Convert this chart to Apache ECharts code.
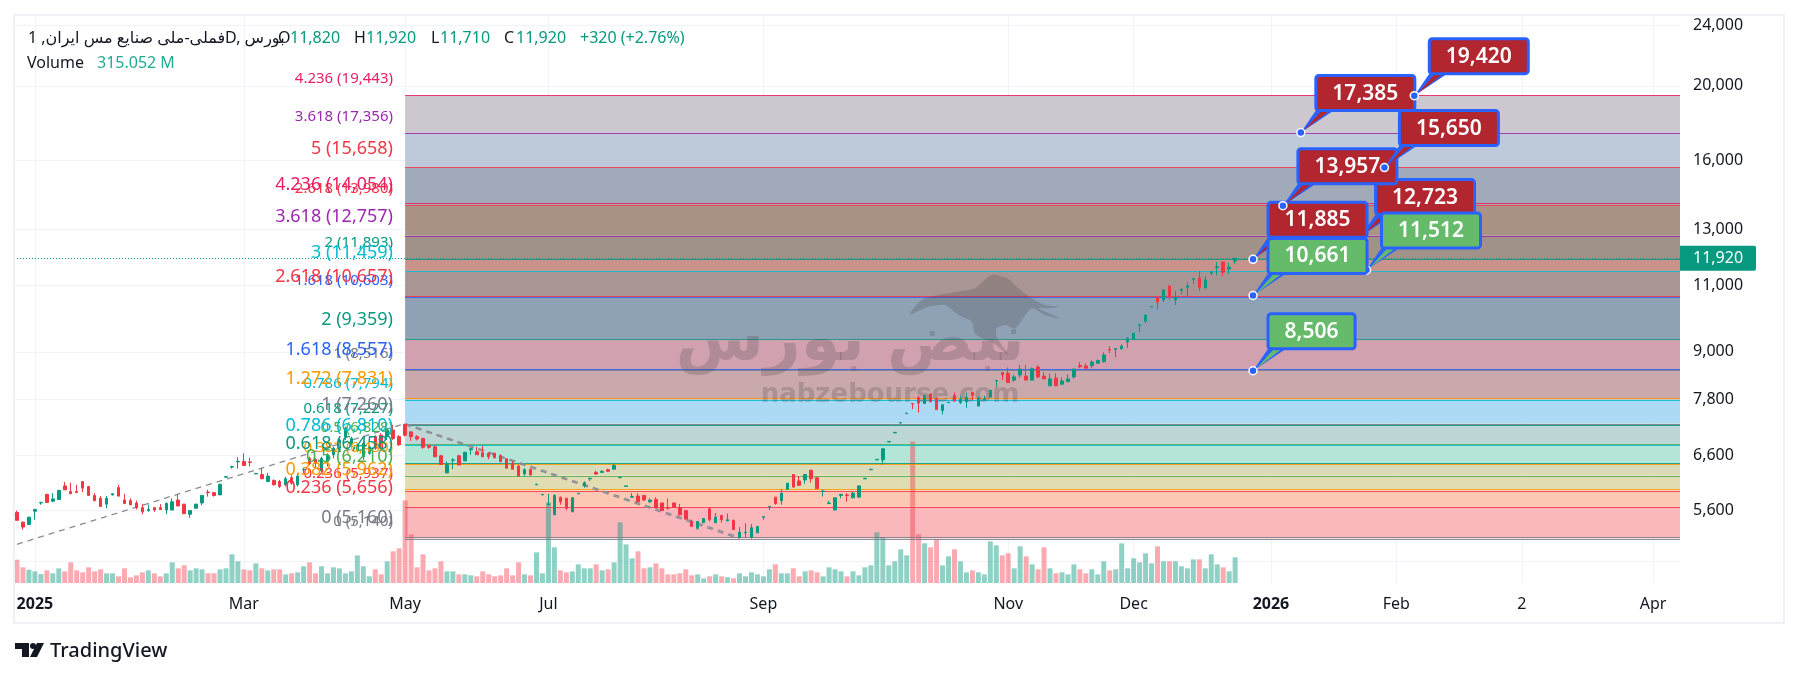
<!DOCTYPE html>
<html><head><meta charset="utf-8">
<style>html,body{margin:0;padding:0;background:#fff}#c{width:1800px;height:677px}</style>
<script src="https://cdn.jsdelivr.net/npm/echarts@6/dist/echarts.min.js"></script>
</head><body><div id="c"></div>
<script>
const opens=[5560,5400,5360,5580,5720,5870,5750,5780,6020,5920,
5920,6100,6010,5850,5800,5700,5860,5990,5770,5760,
5720,5640,5590,5640,5640,5600,5600,5770,5700,5530,
5630,5720,5910,5900,5860,6180,6370,6470,6480,6470,
6240,6230,6100,6120,6100,6040,6170,6040,6320,6540,
6520,6300,6480,6610,6740,6980,6840,6710,6570,6640,
6980,7010,6980,7120,6980,7240,7080,6980,6940,6790,
6770,6590,6260,6500,6590,6490,6710,6670,6650,6640,
6640,6590,6530,6440,6390,6240,6330,6040,5860,5690,
5520,5820,5800,5570,5880,6030,6150,6270,6270,6320,
6330,6170,6010,5820,5840,5850,5740,5780,5720,5640,
5720,5640,5590,5410,5300,5390,5620,5390,5510,5420,
5430,5160,5230,5160,5230,5480,5650,5820,5760,5960,
6230,6110,6130,6310,6170,5920,5710,5600,5850,5860,
5810,5820,6150,6320,6510,6510,6870,7060,7270,7480,
7710,7850,7710,7930,7810,7550,7730,7900,7730,7750,
7970,7650,7790,7860,8250,8460,8440,8270,8400,8370,
8270,8600,8370,8130,8320,8170,8230,8350,8640,8630,
8640,8700,8740,9070,9070,9080,9270,9340,9750,9870,
10300,10590,10520,10970,10520,10830,10930,11190,11230,10900,
11410,11590,11790,11540,11820];
const closes=[5430,5320,5480,5610,5730,5730,5790,5940,5950,5880,
5900,5980,5850,5760,5660,5800,5880,5840,5710,5690,
5640,5570,5610,5600,5610,5710,5740,5670,5540,5590,
5700,5850,5900,5850,6050,6190,6380,6480,6400,6460,
6250,6150,6200,6040,6010,6150,6070,6200,6330,6430,
6440,6540,6610,6740,6910,7160,6940,6810,6840,6770,
6740,6740,7120,6940,6810,7010,6980,6930,6760,6760,
6570,6420,6420,6510,6410,6660,6730,6610,6570,6570,
6550,6480,6350,6330,6200,6320,6220,6050,5870,5700,
5850,5740,5630,5810,5890,6080,6160,6240,6290,6290,
6400,6180,6020,5830,5740,5770,5770,5640,5590,5630,
5650,5520,5450,5330,5410,5460,5440,5480,5440,5440,
5280,5240,5240,5310,5330,5490,5660,5710,5890,6070,
6000,6030,6230,6150,5970,5930,5720,5810,5870,5850,
5890,6020,6160,6330,6520,6730,6880,7070,7280,7490,
7700,7720,7890,7750,7570,7680,7740,7790,7810,7850,
7900,7830,7810,8020,8260,8400,8210,8350,8550,8270,
8560,8350,8300,8300,8130,8250,8300,8550,8610,8570,
8730,8770,8920,9050,9090,9160,9380,9520,9770,10050,
10310,10450,10840,10600,10600,10860,10970,11210,10930,11170,
11440,11620,11430,11610,11920];
const lows=[5430,5280,5360,5440,5690,5730,5730,5780,5950,5880,
5900,5910,5850,5750,5660,5630,5850,5830,5700,5680,
5610,5530,5570,5570,5600,5530,5600,5660,5530,5470,
5630,5680,5830,5830,5860,6180,6340,6340,6390,6380,
6240,6150,6100,6030,5980,6010,6040,6010,6250,6410,
6350,6280,6380,6540,6670,6910,6770,6670,6510,6610,
6710,6720,6910,6910,6790,6980,6890,6900,6730,6730,
6570,6410,6260,6330,6410,6490,6610,6610,6560,6520,
6540,6460,6350,6330,6200,6200,6220,6040,5860,5680,
5520,5690,5600,5570,5880,5990,6110,6220,6260,6280,
6330,6170,6010,5810,5730,5750,5720,5630,5590,5610,
5650,5510,5440,5330,5280,5390,5410,5390,5390,5420,
5280,5160,5160,5140,5230,5440,5600,5690,5690,5960,
5990,6030,6060,6080,5970,5830,5700,5600,5800,5740,
5800,5820,6150,6320,6510,6420,6870,7060,7270,7480,
7580,7500,7700,7740,7560,7460,7730,7750,7700,7610,
7790,7650,7790,7860,8110,8270,8210,8230,8330,8270,
8270,8320,8300,8130,8130,8170,8230,8310,8570,8560,
8570,8690,8710,8970,8860,9080,9110,9340,9560,9820,
10300,10220,10450,10520,10360,10710,10600,11030,10800,10900,
11330,11330,11300,11370,11710];
const highs=[5590,5410,5490,5620,5740,5880,5890,5950,6090,6080,
6040,6110,6020,5890,5840,5840,5890,6040,5880,5800,
5760,5700,5690,5650,5700,5730,5800,5860,5700,5590,
5700,5850,5950,5910,6060,6200,6390,6560,6640,6550,
6260,6350,6260,6140,6130,6190,6220,6250,6350,6570,
6540,6570,6640,6770,6940,7190,6980,6840,6880,6810,
7010,7050,7160,7230,7010,7260,7100,7010,6960,6820,
6790,6610,6480,6540,6610,6670,6750,6770,6790,6660,
6650,6620,6540,6480,6410,6350,6330,6060,5870,5880,
5870,5830,5810,5810,5890,6100,6170,6300,6310,6340,
6440,6180,6020,5890,5890,5860,5800,5820,5720,5800,
5720,5700,5600,5440,5420,5460,5630,5550,5520,5540,
5440,5320,5380,5370,5340,5490,5660,5820,5960,6070,
6230,6200,6230,6320,6170,5950,5760,5810,5870,5890,
5910,6020,6160,6330,6520,6730,6880,7070,7280,7490,
7710,7890,7890,7950,7850,7700,7740,7970,7890,7970,
7980,7870,7890,8030,8270,8470,8590,8400,8650,8650,
8590,8650,8470,8440,8440,8340,8420,8550,8730,8700,
8770,8800,8990,9150,9100,9210,9410,9520,9770,10050,
10310,10600,10840,10970,10800,10890,11100,11230,11470,11300,
11450,11790,11790,11760,11920];
const volumesM=[286,192,164,143,110,155,119,180,143,254,
155,131,192,143,168,119,119,82,180,70,
94,131,155,119,82,119,254,180,217,155,
180,168,119,119,168,180,352,266,168,155,
241,180,155,168,168,106,119,131,205,254,
119,205,119,192,180,119,143,339,205,82,
168,106,266,389,425,1014,597,192,352,155,
180,266,143,143,106,106,94,82,143,106,
82,94,180,94,254,106,94,376,119,990,
438,155,131,143,229,180,180,229,155,168,
254,744,474,303,389,180,192,241,180,106,
106,119,168,94,106,57,82,106,82,70,
57,119,82,131,106,82,168,229,119,119,
180,82,143,155,131,82,192,168,143,82,
143,94,192,217,622,560,217,266,413,339,
1738,597,487,438,536,217,327,413,266,131,
155,131,106,511,462,339,364,180,450,327,
229,168,438,180,119,131,106,229,168,119,
168,106,266,155,168,487,180,303,254,364,
241,450,266,266,266,205,180,290,290,180,
352,229,192,143,315.052];

const slotCount=279;
const timeTickIndex=[3,38,65,89,125,166,187,210,231,252,274];
const timeTickText=['2025','Mar','May','Jul','Sep','Nov','Dec','2026','Feb','2','Apr'];
const priceLabels=[24000,20000,16000,13000,11000,9000,7800,6600,5600];
const priceGrid=[24000,20000,16000,13000,11000,9000,7800,6600,5600,4800];
const lastPrice=11920;
const lastVolume=315.052;

const fibStartIndex=65;
const fibARatios=['0','0.236','0.382','0.5','0.618','0.786','1','1.272','1.618','2','2.618','3','3.618','4.236','5'];
const fibAPrices=[5160,5656,5962,6210,6458,6810,7260,7831,8557,9359,10657,11459,12757,14054,15658];
const fibAColors=['#787b86','#f23645','#ff9800','#4caf50','#089981','#00bcd4','#787b86','#ff9800','#2962ff','#089981','#f23645','#00bcd4','#9c27b0','#e91e63','#f23645'];
const fibBRatios=['0','0.236','0.382','0.5','0.618','0.786','1','1.618','2','2.618','3.618','4.236'];
const fibBPrices=[5140,5937,6430,6828,7227,7794,8516,10603,11893,13980,17356,19443];
const fibBColors=['#787b86','#f23645','#ff9800','#4caf50','#089981','#00bcd4','#787b86','#2962ff','#089981','#f23645','#9c27b0','#e91e63'];

const bandTop=[19443,17356,15658,13980,12757,11893,11459,10603,9359,8516,7794,7260,6810,6430,6210,5937,5656];
const bandBottom=[17356,15658,13980,12757,11893,11459,10603,9359,8516,7794,7260,6810,6430,6210,5937,5656,5140];
const bandColors=['#cbc6cd','#bbc8d9','#9ca7b5','#a78f80','#9c8e84','#c78e88','#a6918f','#8a9db2','#cf9dac','#c7a6a8','#a9d7f3','#b9d5d3','#b1e5d6','#dad9b6','#e0dbae','#fdc6b0','#fab5ba'];

const calloutOrder=[12723,11512,11885,10661,8506,13957,15650,17385,19420];
const calloutIndex=[225,226,207,207,207,212,229,215,234];
const calloutKind=['sell','buy','sell','buy','buy','sell','sell','sell','sell'];

const trendA=[[0,5053],[65,7260],[121,5160]];
const trendB=[[65,7235],[121,5135]];

const GREEN='#089981',RED='#f23645',FONT='"Noto Sans","DejaVu Sans",sans-serif';
const fmt=v=>Number(v).toLocaleString('en-US');
const categories=Array.from({length:slotCount},(_,i)=>String(i));
const tickText={};timeTickIndex.forEach((t,i)=>tickText[t]=timeTickText[i]);
const isTimeTick=i=>tickText[i]!==undefined;

const chart=echarts.init(document.getElementById('c'));

function bandItem(params,api){
  const a=api.coord([api.value(0),api.value(1)]),b=api.coord([api.value(0),api.value(2)]);
  const cs=params.coordSys;
  return {type:'rect',shape:{x:a[0],y:a[1],width:cs.x+cs.width-a[0],height:b[1]-a[1]},
    style:{fill:bandColors[params.dataIndex],opacity:.96}};
}
const fibLines=[...fibAPrices.map((p,i)=>({p,c:fibAColors[i]})),...fibBPrices.map((p,i)=>({p,c:fibBColors[i]}))];
function lineItem(params,api){
  const a=api.coord([api.value(0),api.value(1)]);const cs=params.coordSys;const y=Math.round(a[1])+.5;
  return {type:'line',shape:{x1:a[0],y1:y,x2:cs.x+cs.width,y2:y},
    style:{stroke:fibLines[params.dataIndex].c,lineWidth:1.2,opacity:.85}};
}
const fibLabels=[
 ...fibBPrices.map((p,i)=>({p,t:fibBRatios[i]+' ('+fmt(p)+')',c:fibBColors[i],s:15,o:9})),
 ...fibAPrices.map((p,i)=>({p,t:fibARatios[i]+' ('+fmt(p)+')',c:fibAColors[i],s:18,o:10}))];
function labelItem(params,api){
  const a=api.coord([api.value(0),api.value(1)]);const l=fibLabels[params.dataIndex];
  return {type:'text',x:393,y:a[1]-l.o,style:{text:l.t,fill:l.c,font:l.s+'px '+FONT,align:'right',verticalAlign:'bottom'}};
}
function calloutItem(params,api){
  const p=api.coord([api.value(0),api.value(1)]);const x=p[0],y=p[1];
  const i=params.dataIndex;const fill=calloutKind[i]==='buy'?'#66bb6a':'#b2262f';
  const w=calloutOrder[i]<10000?87:99;
  return {type:'group',children:[
    {type:'polygon',shape:{points:[[x,y],[x+15,y-22],[x+33,y-22]]},style:{fill:'#2962ff'}},
    {type:'polygon',shape:{points:[[x+3,y-2],[x+21,y-22],[x+29,y-22]]},style:{fill:fill}},
    {type:'rect',shape:{x:x+15,y:y-57,width:w,height:35,r:3},style:{fill:fill,stroke:'#2962ff',lineWidth:3}},
    {type:'text',x:x+15+w/2,y:y-39,style:{text:fmt(calloutOrder[i]),fill:'#fff',font:'600 21px '+FONT,align:'center',verticalAlign:'middle'}},
    {type:'circle',shape:{cx:x,cy:y,r:4},style:{fill:'#2962ff',stroke:'#fff',lineWidth:1.5}}
  ]};
}

const txt=(text,x,y,fill,font)=>({type:'text',z:20,silent:true,style:{text,x,y,fill,font:font||('16px '+FONT),align:'left',verticalAlign:'middle'}});
const bullPts=[[555,148],[590,105],[640,90],[700,80],[750,70],[800,30],[850,42],[880,70],[920,100],[960,120],[1000,125],[970,130],[940,130],[1005,160],[960,150],[920,130],[870,190],[840,180],[815,190],[815,215],[850,270],[800,230],[780,225],[750,205],[740,170],[700,150],[660,120],[610,125]].map(p=>[725+p[0]/3,265+p[1]/3]);
const WM='rgba(70,65,72,.24)';

chart.setOption({
  animation:false,backgroundColor:'#fff',
  textStyle:{fontFamily:FONT},
  grid:[{left:14,top:16,width:1666,height:567},{left:14,top:440,width:1666,height:143}],
  xAxis:[
   {type:'category',gridIndex:0,data:categories,boundaryGap:true,
    axisLine:{show:false},axisTick:{show:false},
    axisLabel:{interval:(i)=>isTimeTick(i),margin:13,color:'#131722',fontSize:16,fontFamily:FONT,
      formatter:(v,i)=>{const t=tickText[i];return t===undefined?'':(/^\d{4}$/.test(t)?'{b|'+t+'}':t);},
      rich:{b:{fontWeight:700,fontSize:16,color:'#131722',fontFamily:FONT}}},
    splitLine:{show:true,alignWithLabel:true,interval:(i)=>isTimeTick(i),lineStyle:{color:'#f0f3fa',width:1}}},
   {type:'category',gridIndex:1,data:categories,boundaryGap:true,show:false}
  ],
  yAxis:[
   {type:'log',gridIndex:0,position:'right',min:4498.6,max:24665,logBase:10,
    axisLine:{show:false},
    axisTick:{show:false,customValues:priceGrid},minorTick:{show:false},
    axisLabel:{customValues:priceLabels,margin:13,color:'#131722',fontSize:16,fontFamily:FONT,formatter:v=>fmt(Math.round(v))},
    splitLine:{show:true,lineStyle:{color:'#f0f3fa',width:1}}},
   {type:'value',gridIndex:1,min:0,max:1755,show:false,splitLine:{show:false}}
  ],
  series:[
   {type:'custom',name:'Fib bands',z:1,silent:true,xAxisIndex:0,yAxisIndex:0,renderItem:bandItem,encode:{x:0,y:[1,2]},
    data:bandTop.map((t,i)=>[fibStartIndex,t,bandBottom[i]])},
   {type:'bar',name:'Volume',z:2,silent:true,xAxisIndex:1,yAxisIndex:1,barWidth:5,
    data:volumesM.map((v,i)=>({value:v,itemStyle:{color:closes[i]>=opens[i]?'rgba(8,153,129,.45)':'rgba(242,54,69,.42)'}})),
    markLine:{silent:true,symbol:'none',precision:3,data:[{yAxis:lastVolume}],lineStyle:{width:0,opacity:0},
      label:{show:true,position:'end',distance:0,formatter:'315.052 M',color:'#fff',backgroundColor:'#22ab94',fontSize:16,fontFamily:FONT,padding:[4,6,5,7],borderRadius:[0,2,2,0],align:'left'}}},
   {type:'custom',name:'Fib lines',z:3,silent:true,xAxisIndex:0,yAxisIndex:0,renderItem:lineItem,encode:{x:0,y:1},
    data:fibLines.map(l=>[fibStartIndex,l.p])},
   {type:'line',name:'Trend A',z:5,silent:true,data:trendA,symbol:'none',lineStyle:{color:'#8a8c95',width:1.3,type:[6,5]}},
   {type:'line',name:'Trend B',z:5,silent:true,data:trendB,symbol:'none',lineStyle:{color:'#8a8c95',width:1.3,type:[6,5]}},
   {type:'candlestick',name:'Price',z:6,silent:true,xAxisIndex:0,yAxisIndex:0,barWidth:3,
    data:opens.map((o,i)=>[o,closes[i],lows[i],highs[i]]),
    itemStyle:{color:GREEN,color0:RED,borderColor:GREEN,borderColor0:RED,borderColorDoji:GREEN,borderWidth:1},
    markLine:{silent:true,symbol:'none',precision:0,data:[{yAxis:lastPrice}],
      lineStyle:{color:GREEN,type:[1,2],width:1},
      label:{show:true,position:'end',distance:0,formatter:'11,920',color:'#fff',backgroundColor:GREEN,fontSize:16,fontFamily:FONT,padding:[4,13,5,13],borderRadius:[0,2,2,0],align:'left'}}},
   {type:'custom',name:'Fib labels',z:8,silent:true,xAxisIndex:0,yAxisIndex:0,renderItem:labelItem,encode:{x:0,y:1},
    data:fibLabels.map(l=>[fibStartIndex,l.p])},
   {type:'custom',name:'Callouts',z:9,silent:true,xAxisIndex:0,yAxisIndex:0,renderItem:calloutItem,encode:{x:0,y:1},
    data:calloutOrder.map((p,i)=>[calloutIndex[i],p])}
  ],
  graphic:{elements:[
    {type:'rect',z:30,silent:true,shape:{x:14,y:15,width:1770,height:608},style:{fill:'none',stroke:'#f0f1f7',lineWidth:2}},
    {type:'polygon',z:4,silent:true,shape:{points:bullPts,smooth:.25},style:{fill:WM}},
    {type:'text',z:4,silent:true,style:{text:'نبض بورس',x:850,y:343,fill:WM,font:'bold 64px "DejaVu Sans"',align:'center',verticalAlign:'middle'}},
    {type:'text',z:4,silent:true,style:{text:'nabzebourse.com',x:890,y:395,fill:WM,font:'bold 26px "DejaVu Sans"',align:'center',verticalAlign:'middle'}},
    txt('فملی-ملی صنایع مس ایران, 1D, بورس',28,38,'#131722'),
    txt('O',278,38,'#131722'),txt('11,820',290,38,GREEN),
    txt('H',354,38,'#131722'),txt('11,920',366,38,GREEN),
    txt('L',431,38,'#131722'),txt('11,710',440,38,GREEN),
    txt('C',504,38,'#131722'),txt('11,920',516,38,GREEN),
    txt('+320 (+2.76%)',580,38,GREEN),
    txt('Volume',27,63,'#131722'),txt('315.052 M',97,63,'#22ab94'),
    {type:'polygon',z:20,silent:true,shape:{points:[[15,643],[29,643],[29,657],[22,657],[22,649],[15,649]]},style:{fill:'#131722'}},
    {type:'circle',z:20,silent:true,shape:{cx:33,cy:646,r:3},style:{fill:'#131722'}},
    {type:'polygon',z:20,silent:true,shape:{points:[[37,643],[44,643],[37,657],[30,657]]},style:{fill:'#131722'}},
    txt('TradingView',50,651,'#131722','500 20px '+FONT)
  ]}
});
</script></body></html>
